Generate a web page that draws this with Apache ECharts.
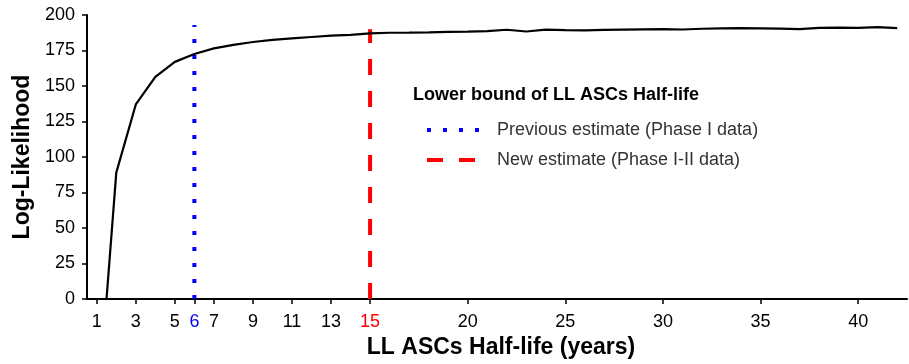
<!DOCTYPE html>
<html>
<head>
<meta charset="utf-8">
<script src="https://cdn.jsdelivr.net/npm/echarts@6/dist/echarts.min.js"></script>
<style>html,body{margin:0;padding:0;background:#fff;}#c{width:909px;height:364px;}</style>
</head>
<body>
<div id="c"></div>
<script>
var halfLife = [1.5, 2, 3, 4, 5, 6, 7, 8, 9, 10, 11, 12, 13, 14, 15, 16, 17, 18, 19, 20, 21, 22, 23, 24, 25, 26, 27, 28, 29, 30, 31, 32, 33, 34, 35, 36, 37, 38, 39, 40, 41, 42];
var logLik = [0, 89, 137, 156.5, 167, 172.5, 176.5, 179, 181, 182.5, 183.5, 184.5, 185.5, 186, 187, 187.5, 187.6, 187.8, 188.1, 188.3, 188.6, 189.6, 188.4, 189.7, 189.4, 189.2, 189.5, 189.7, 189.9, 190, 189.8, 190.3, 190.6, 190.8, 190.6, 190.4, 190.1, 190.9, 191.1, 191, 191.4, 190.8];
var xTicks = [1, 3, 5, 6, 7, 9, 11, 13, 15, 20, 25, 30, 35, 40];
var prevEstimate = 6, prevTop = 193;
var newEstimate = 15, newTop = 190;
var legendTitle = 'Lower bound of LL ASCs Half-life';
var prevName = 'Previous estimate (Phase I data)';
var newName = 'New estimate (Phase I-II data)';

var curve = halfLife.map(function (x, i) { return [x, logLik[i]]; });
var font = '"Liberation Sans", Arial, sans-serif';
var chart = echarts.init(document.getElementById('c'), null, {renderer: 'canvas'});
chart.setOption({
  animation: false,
  textStyle: {fontFamily: font},
  grid: {left: 87, right: 2, top: 15, bottom: 65, containLabel: false},
  xAxis: {
    type: 'value', min: 0.5, max: 42.5,
    name: 'LL ASCs Half-life (years)', nameLocation: 'middle', nameGap: 37,
    nameTextStyle: {fontFamily: font, fontSize: 23, fontWeight: 'bold', color: '#000', padding: [0, 0, 0, 8]},
    axisLine: {show: true, onZero: false, lineStyle: {color: '#000', width: 2}},
    axisTick: {show: true, customValues: xTicks, length: 5, lineStyle: {color: '#000', width: 1.5}},
    axisLabel: {
      customValues: xTicks, fontFamily: font, fontSize: 18, color: '#000', margin: 14,
      formatter: function (v) {
        if (v === prevEstimate) return '{b|' + v + '}';
        if (v === newEstimate) return '{r|' + v + '}';
        return '' + v;
      },
      rich: {
        b: {color: '#0000ff', fontSize: 18, fontFamily: font},
        r: {color: '#ff0000', fontSize: 18, fontFamily: font}
      }
    },
    splitLine: {show: false}
  },
  yAxis: {
    type: 'value', min: 0, max: 200, interval: 25,
    name: 'Log-Likelihood', nameLocation: 'middle', nameGap: 52, nameRotate: 90,
    nameTextStyle: {fontFamily: font, fontSize: 23, fontWeight: 'bold', color: '#000'},
    axisLine: {show: true, lineStyle: {color: '#000', width: 2}},
    axisTick: {show: true, length: 5, lineStyle: {color: '#000', width: 1.5}},
    axisLabel: {fontFamily: font, fontSize: 18, color: '#000', margin: 12},
    splitLine: {show: false}
  },
  legend: {
    data: [prevName, newName],
    orient: 'vertical', left: 420, top: 116,
    itemWidth: 52, itemHeight: 18, itemGap: 12,
    itemStyle: {opacity: 0},
    lineStyle: {width: 4},
    textStyle: {fontFamily: font, fontSize: 18, color: '#333', padding: [0, 0, 0, 13]},
    selectedMode: false
  },
  graphic: [{
    type: 'text', left: 413, top: 86,
    style: {text: legendTitle, font: 'bold 18px ' + font, fill: '#000'}
  }],
  series: [
    {
      type: 'line', data: curve, symbol: 'none', clip: true,
      lineStyle: {color: '#000', width: 2.2}, itemStyle: {color: '#000'}, z: 3
    },
    {
      name: prevName, type: 'line', symbol: 'none',
      data: [[prevEstimate, 0], [prevEstimate, prevTop]],
      lineStyle: {color: '#0000ff', width: 4, type: [4, 12], cap: 'butt'},
      itemStyle: {color: '#0000ff'}, z: 2
    },
    {
      name: newName, type: 'line', symbol: 'none',
      data: [[newEstimate, 0], [newEstimate, newTop]],
      lineStyle: {color: '#ff0000', width: 4, type: [16, 16], cap: 'butt'},
      itemStyle: {color: '#ff0000'}, z: 2
    }
  ]
});
</script>
</body>
</html>
